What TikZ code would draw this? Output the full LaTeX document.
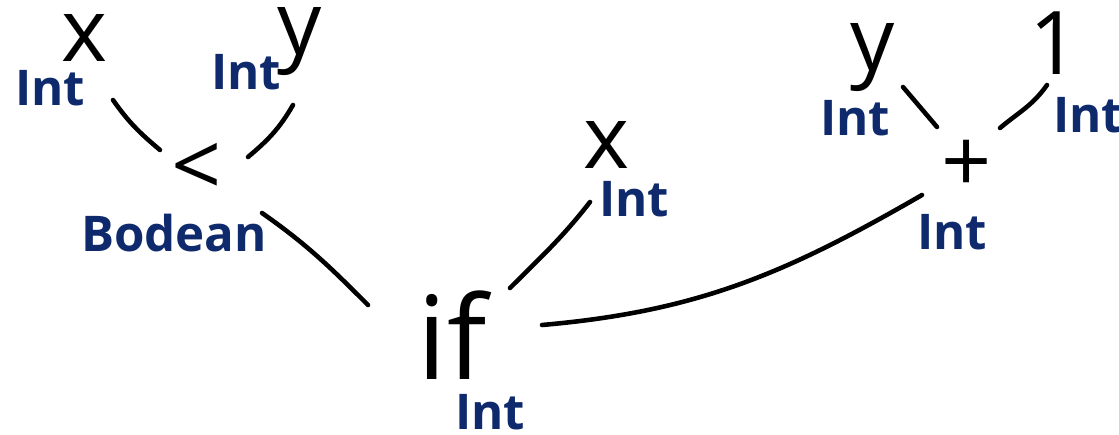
\documentclass[tikz,border=0pt]{standalone}
\usepackage{fontspec}
\setmainfont{Open Sans}
\usepackage{xcolor}
\usepackage{tikz}
\definecolor{tynavy}{HTML}{0F2A6C}

\begin{document}
\begin{tikzpicture}[x=0.02cm, y=-0.02cm,
    sym/.style={inner sep=0pt, text=black, font=\fontsize{50}{56}\selectfont},
    ty/.style={inner sep=0pt, text=tynavy, font=\fontsize{28}{32}\selectfont\bfseries},
    edge/.style={line width=2.6pt, line cap=round, black}]
  \useasboundingbox (0,0) rectangle (1119,435);
  % the terms, one node for each
  \node[sym] (xa)  at (85,38)   {x};
  \node[sym] (ya)  at (300,42)  {y};
  \node[sym] (lt)  at (197,170) {<};
  \node[sym] (xb)  at (607,145) {x};
  \node[sym, font=\fontsize{66}{72}\selectfont] (ifn) at (452,335) {if};
  \node[sym] (pl)  at (967,166) {+};
  \node[sym] (yb)  at (873,58)  {y};
  \node[sym] (one) at (1055,43) {1};
  % their types
  \foreach \n/\px/\py/\t in {%
      xaty/50/88/Int, yaty/246/72/Int, ltty/174/233/Bodean,
      xbty/634/199/Int, ifty/490/412/Int, plty/952/232/Int,
      ybty/855/118/Int, onety/1088/115/Int}
    \node[ty] (\n) at (\px,\py) {\t};
  % the edges of the tree (angles count upwards, the y axis points down)
  \draw[edge] ([shift={(28,62)}]xa.center) to[out=-55,in=140] ([shift={(-37,-20)}]lt.center);
  \draw[edge] ([shift={(-7,63)}]ya.center) to[out=-120,in=40] ([shift={(51,-13)}]lt.center);
  \draw[edge] ([shift={(65,43)}]lt.center) to[out=-35,in=135] ([shift={(-84,-30)}]ifn.center);
  \draw[edge] ([shift={(-17,57)}]xb.center) to[out=-128,in=45] ([shift={(58,-47)}]ifn.center);
  \draw[edge] ([shift={(-45,29)}]pl.center) to[out=-150,in=5] ([shift={(90,-10)}]ifn.center);
  \draw[edge] ([shift={(30,29)}]yb.center) -- ([shift={(-30,-39)}]pl.center);
  \draw[edge] ([shift={(-8,42)}]one.center) to[out=-125,in=40] ([shift={(33,-38)}]pl.center);
\end{tikzpicture}
\end{document}
